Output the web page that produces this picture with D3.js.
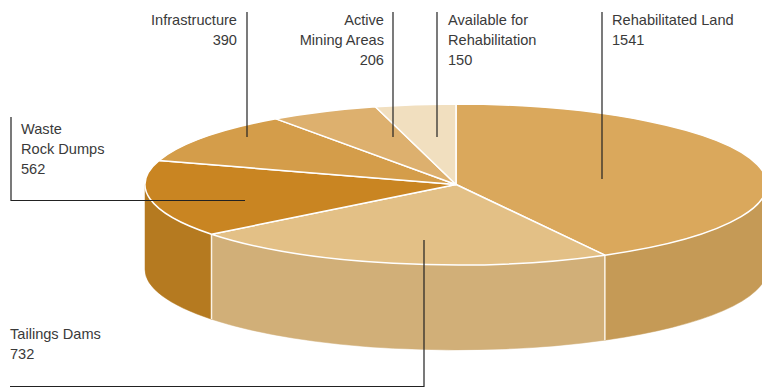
<!DOCTYPE html>
<html>
<head>
<meta charset="utf-8">
<script src="https://cdn.jsdelivr.net/npm/d3@7"></script>
<style>
    html, body { margin: 0; padding: 0; background: #fff; }
    text { font-family: "Liberation Sans", Arial, sans-serif; font-size: 14.6px; fill: #3a3a3a; }
</style>
</head>
<body>
<div id="chart"></div>
<script>
    // land use areas, clockwise from 12 o'clock
    var categories = ["Rehabilitated Land", "Tailings Dams", "Waste Rock Dumps", "Infrastructure", "Active Mining Areas", "Available for Rehabilitation"];
    var values = [1541, 732, 562, 390, 206, 150];
    var labelLines = [
        ["Rehabilitated Land"],
        ["Tailings Dams"],
        ["Waste", "Rock Dumps"],
        ["Infrastructure"],
        ["Active", "Mining Areas"],
        ["Available for", "Rehabilitation"]
    ];
    var topColors = ["#daa85c", "#e3c086", "#c98522", "#d49d4a", "#ddb06e", "#f1dfbf"];
    var sideColors = ["#c59a56", "#d1af78", "#b57a20", "#c08c40", "#c89d60", "#d9c7a6"];

    var width = 762, height = 387;
    var cx = 456, cy = 184.5, rx = 311, ry = 80.5, depth = 85;

    // label placement: text anchor point, alignment, leader polyline
    var labelLayout = [
        { x: 612, y: 25, anchor: "start", leader: [[602, 12], [602, 179]] },
        { x: 10, y: 338.5, anchor: "start", leader: [[10, 386.5], [424, 386.5], [424, 240]] },
        { x: 21, y: 133.5, anchor: "start", leader: [[11, 117], [11, 200.5], [245, 200.5]] },
        { x: 237, y: 25, anchor: "end", leader: [[247, 12], [247, 137]] },
        { x: 384, y: 25, anchor: "end", leader: [[393, 12], [393, 137]] },
        { x: 448, y: 25, anchor: "start", leader: [[437, 12], [437, 137]] }
    ];
    var lineHeight = 20.2;

    var svg = d3.select("#chart").append("svg")
        .attr("width", width)
        .attr("height", height);

    var pie = d3.pie().sort(null).value(function (d) { return d; });

    // slight perspective: slices facing the viewer look a little wider
    function view(a) {
        var w = (1 - Math.cos(a)) / 2;
        return a + 0.112 * Math.sin(a - Math.PI * 190 / 180) * w;
    }
    var arcs = pie(values).map(function (d) {
        return { startAngle: view(d.startAngle), endAngle: view(d.endAngle), value: d.value };
    });

    function pt(a, dy) {
        return [cx + rx * Math.sin(a), cy - ry * Math.cos(a) + (dy || 0)];
    }

    function topPath(a0, a1) {
        var p0 = pt(a0), p1 = pt(a1);
        var large = (a1 - a0) > Math.PI ? 1 : 0;
        return "M" + cx + "," + cy + "L" + p0 + "A" + rx + "," + ry + " 0 " + large + " 1 " + p1 + "Z";
    }

    function sidePath(a0, a1) {
        var p0 = pt(a0), p1 = pt(a1), q0 = pt(a0, depth), q1 = pt(a1, depth);
        return "M" + p0 + "A" + rx + "," + ry + " 0 0 1 " + p1 +
            "L" + q1 + "A" + rx + "," + ry + " 0 0 0 " + q0 + "Z";
    }

    // front walls: visible between 90 and 270 degrees
    var sides = svg.append("g");
    arcs.forEach(function (d, i) {
        var a0 = Math.max(d.startAngle, Math.PI / 2);
        var a1 = Math.min(d.endAngle, Math.PI * 1.5);
        if (a1 <= a0) return;
        sides.append("path")
            .attr("d", sidePath(a0, a1))
            .attr("fill", sideColors[i])
            .attr("stroke", sideColors[i])
            .attr("stroke-width", 0.5);
    });
    // white seams on the wall where slices meet
    arcs.forEach(function (d) {
        var a = d.endAngle;
        if (a <= Math.PI / 2 || a >= Math.PI * 1.5) return;
        var p = pt(a), q = pt(a, depth);
        sides.append("line")
            .attr("x1", p[0]).attr("y1", p[1])
            .attr("x2", q[0]).attr("y2", q[1])
            .attr("stroke", "#fbf3e6")
            .attr("stroke-width", 1.5);
    });

    svg.append("g").selectAll("path")
        .data(arcs)
        .join("path")
        .attr("d", function (d) { return topPath(d.startAngle, d.endAngle); })
        .attr("fill", function (d, i) { return topColors[i]; })
        .attr("stroke", "#fff")
        .attr("stroke-width", 1.5)
        .attr("stroke-linejoin", "round");

    // leaders and labels
    var labels = svg.append("g");
    labelLayout.forEach(function (l, i) {
        labels.append("path")
            .attr("d", d3.line()(l.leader))
            .attr("fill", "none")
            .attr("stroke", "#222")
            .attr("stroke-width", 1.2);
        var t = labels.append("text")
            .attr("text-anchor", l.anchor);
        labelLines[i].concat([String(values[i])]).forEach(function (s, k) {
            t.append("tspan")
                .attr("x", l.x)
                .attr("y", l.y + k * lineHeight)
                .text(s);
        });
    });
</script>
</body>
</html>
